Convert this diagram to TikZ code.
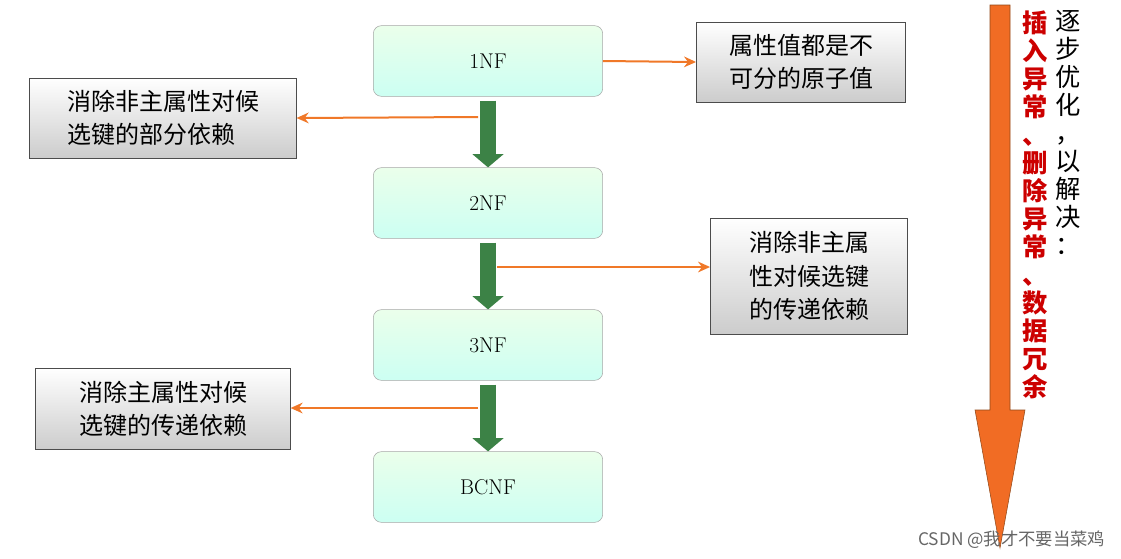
\documentclass[tikz,border=0pt]{standalone}
\usepackage{fontspec}
\newfontfamily\cjk{Noto Sans CJK SC}
\usetikzlibrary{arrows.meta}
\definecolor{og}{RGB}{240,120,40}
\definecolor{dg}{RGB}{60,130,70}
\tikzset{
 nf/.style={draw=gray!70,rounded corners=6pt,top color=green!8,bottom color=green!25!cyan!20,minimum width=172pt,minimum height=53pt,font=\fontsize{16}{18}\selectfont},
 gb/.style={draw=gray!60!black,top color=white,bottom color=gray!40,align=left,inner sep=5pt,font=\cjk\fontsize{18}{25}\selectfont},
 ol/.style={og,line width=1.5pt,-{Stealth[length=9pt,width=8pt]}},
 ga/.style={dg,line width=12pt,-{Triangle[length=10pt,width=23pt]},shorten >=0pt}
}
\begin{document}
\begin{tikzpicture}[x=0.75pt,y=-0.75pt]
\useasboundingbox (0,0) rectangle (1121,558);
\node[nf] (n1) at (488,61) {1NF};
\node[nf] (n2) at (488,203) {2NF};
\node[nf] (n3) at (488,345) {3NF};
\node[nf] (n4) at (488,487) {BCNF};
\node[gb,minimum width=157pt,minimum height=60pt] (g1) at (801,62) {属性值都是不\\可分的原子值};
\node[gb,minimum width=200pt,minimum height=60pt] (g2) at (163,118) {消除非主属性对候\\选键的部分依赖};
\node[gb,minimum width=148pt,minimum height=87pt] (g3) at (809,276) {消除非主属\\性对候选键\\的传递依赖};
\node[gb,minimum width=191pt,minimum height=61pt] (g4) at (163,409) {消除主属性对候\\选键的传递依赖};
\draw[ga] (n1.south) ++(0,4) coordinate (a1) -- (n2.north);
\draw[ga] (n2.south) ++(0,4) -- (n3.north);
\draw[ga] (n3.south) ++(0,4) -- (n4.north);
\coordinate (c2) at (478,117);
\coordinate (c3) at (497,267);
\coordinate (c4) at (478,408);
\draw[ol] (n1.east) -- (g1.west);
\draw[ol] (c2) -- (g2.east);
\draw[ol] (c3) -- (g3.west|-c3);
\draw[ol] (c4) -- (g4.east|-c4);
\fill[og!90!red,draw=og!60!black] (990,5) -- (1010,5) -- (1010,410) -- (1025,410) -- (1000,548) -- (975,410) -- (990,410) -- cycle;
\node[font=\cjk\fontsize{19}{21}\selectfont,align=center,anchor=north] (v1) at (1068,6) {逐\\步\\优\\化\\，\\以\\解\\决\\：};
\node[font=\cjk\bfseries\fontsize{19}{21}\selectfont,red!80!black,align=center,anchor=north] (v2) at (1035,6) {插\\入\\异\\常\\、\\删\\除\\异\\常\\、\\数\\据\\冗\\余};
\node[font=\cjk\fontsize{13}{15}\selectfont,gray!80!black,anchor=east] (wm) at (1110,540) {CSDN @我才不要当菜鸡};
\end{tikzpicture}
\end{document}
